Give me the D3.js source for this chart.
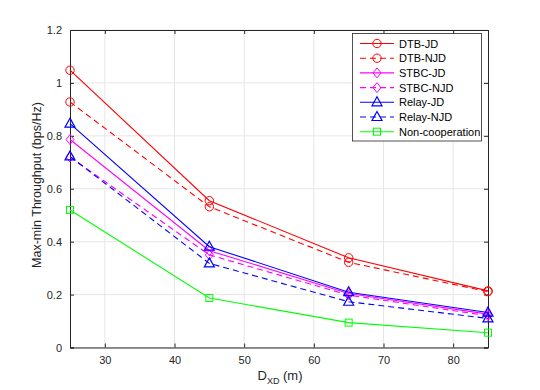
<!DOCTYPE html>
<html>
<head>
<meta charset="utf-8">
<script src="https://cdn.jsdelivr.net/npm/d3@7"></script>
<style>
  body { margin: 0; background: #fff; }
  text { font-family: "Liberation Sans", Arial, sans-serif; }
</style>
</head>
<body>
<svg id="chart" width="540" height="390"></svg>
<script>
const distances = [25, 45, 65, 85];
const dtbJD = [1.048, 0.555, 0.339, 0.214];
const dtbNJD = [0.928, 0.532, 0.322, 0.211];
const stbcJD = [0.786, 0.366, 0.204, 0.126];
const stbcNJD = [0.720, 0.350, 0.198, 0.120];
const relayJD = [0.846, 0.381, 0.209, 0.132];
const relayNJD = [0.722, 0.318, 0.173, 0.110];
const nonCoop = [0.520, 0.187, 0.094, 0.056];
const xTicks = [30, 40, 50, 60, 70, 80];
const yTicks = [0, 0.2, 0.4, 0.6, 0.8, 1, 1.2];

const series = [
  { name: "DTB-JD", values: dtbJD, color: "#ff0000", dash: null, marker: "circle" },
  { name: "DTB-NJD", values: dtbNJD, color: "#ff0000", dash: "6,4", marker: "circle" },
  { name: "STBC-JD", values: stbcJD, color: "#ff00ff", dash: null, marker: "diamond" },
  { name: "STBC-NJD", values: stbcNJD, color: "#ff00ff", dash: "6,4", marker: "diamond" },
  { name: "Relay-JD", values: relayJD, color: "#0000ff", dash: null, marker: "triangle" },
  { name: "Relay-NJD", values: relayNJD, color: "#0000ff", dash: "6,4", marker: "triangle" },
  { name: "Non-cooperation", values: nonCoop, color: "#00ff00", dash: null, marker: "square" },
];

const svg = d3.select("#chart");
const plotL = 70, plotR = 488, plotT = 30, plotB = 347.5;
const x = d3.scaleLinear().domain([25, 85]).range([plotL, plotR]);
const y = d3.scaleLinear().domain([0, 1.2]).range([plotB, plotT]);
const axisColor = "#262626";

// grid
const g = svg.append("g");
g.selectAll(".gx").data(xTicks).join("line")
  .attr("x1", d => x(d)).attr("x2", d => x(d))
  .attr("y1", plotT).attr("y2", plotB)
  .attr("stroke", "#e6e6e6").attr("stroke-width", 1);
g.selectAll(".gy").data(yTicks).join("line")
  .attr("x1", plotL).attr("x2", plotR)
  .attr("y1", d => y(d)).attr("y2", d => y(d))
  .attr("stroke", "#e6e6e6").attr("stroke-width", 1);

// axes
const xAxis = d3.axisBottom(x).tickValues(xTicks).tickSize(-4).tickPadding(9).tickFormat(d3.format("d"));
const yAxis = d3.axisLeft(y).tickValues(yTicks).tickSize(-4).tickPadding(8).tickFormat(d => d);
svg.append("g").attr("transform", `translate(0,${plotB})`).call(xAxis);
svg.append("g").attr("transform", `translate(${plotL},0)`).call(yAxis);
svg.append("g").attr("transform", `translate(0,${plotT})`)
  .call(d3.axisTop(x).tickValues(xTicks).tickSize(-4).tickFormat(""));
svg.append("g").attr("transform", `translate(${plotR},0)`)
  .call(d3.axisRight(y).tickValues(yTicks).tickSize(-4).tickFormat(""));
svg.selectAll(".domain").attr("stroke", axisColor);
svg.selectAll(".tick line").attr("stroke", axisColor);
svg.selectAll(".tick text").attr("fill", axisColor).attr("font-size", 11)
  .attr("font-family", "Liberation Sans, Arial, sans-serif");

// axis labels
const xl = svg.append("text").attr("x", 280).attr("y", 380).attr("text-anchor", "middle")
  .attr("font-size", 13).attr("fill", axisColor);
xl.append("tspan").text("D");
xl.append("tspan").attr("font-size", 9).attr("dy", 4).text("XD");
xl.append("tspan").attr("dy", -4).text(" (m)");
svg.append("text").attr("transform", "translate(41,185) rotate(-90)")
  .attr("text-anchor", "middle").attr("font-size", 12.5).attr("fill", axisColor)
  .text("Max-min Throughput (bps/Hz)");

function drawMarker(sel, type, cx, cy, color) {
  if (type === "circle") {
    sel.append("circle").attr("cx", cx).attr("cy", cy).attr("r", 4.2)
      .attr("fill", "none").attr("stroke", color).attr("stroke-width", 1);
  } else if (type === "square") {
    sel.append("rect").attr("x", cx - 3.5).attr("y", cy - 3.5).attr("width", 7).attr("height", 7)
      .attr("fill", "none").attr("stroke", color).attr("stroke-width", 1);
  } else if (type === "diamond") {
    sel.append("path").attr("d", `M${cx},${cy - 5}L${cx + 4},${cy}L${cx},${cy + 5}L${cx - 4},${cy}Z`)
      .attr("fill", "none").attr("stroke", color).attr("stroke-width", 1);
  } else {
    sel.append("path").attr("d", `M${cx},${cy - 5.5}L${cx + 5},${cy + 3.5}L${cx - 5},${cy + 3.5}Z`)
      .attr("fill", "none").attr("stroke", color).attr("stroke-width", 1.2);
  }
}

const line = d3.line().x((d, i) => x(distances[i])).y(d => y(d));
const plot = svg.append("g");
series.forEach(s => {
  plot.append("path").datum(s.values).attr("d", line)
    .attr("fill", "none").attr("stroke", s.color).attr("stroke-width", 1.1)
    .attr("stroke-dasharray", s.dash);
  s.values.forEach((v, i) => drawMarker(plot, s.marker, x(distances[i]), y(v), s.color));
});

// legend
const lg = svg.append("g");
lg.append("rect").attr("x", 352.5).attr("y", 33.5).attr("width", 129).attr("height", 107.5)
  .attr("fill", "#fff").attr("stroke", axisColor).attr("stroke-width", 0.8);
series.forEach((s, i) => {
  const ly = 43.5 + i * 14.7;
  lg.append("line").attr("x1", 360).attr("x2", 394).attr("y1", ly).attr("y2", ly)
    .attr("stroke", s.color).attr("stroke-width", 1.1).attr("stroke-dasharray", s.dash);
  drawMarker(lg, s.marker, 377, ly, s.color);
  lg.append("text").attr("x", 399).attr("y", ly + 4).attr("font-size", 11)
    .attr("fill", "#000").text(s.name);
});
</script>
</body>
</html>
